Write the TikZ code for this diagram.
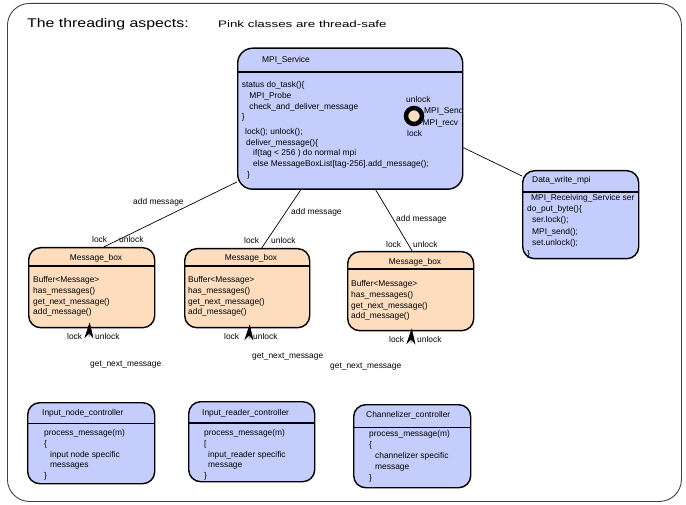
\documentclass[tikz,border=0pt]{standalone}
\usepackage{fontspec}
\setmainfont{Liberation Sans}
\usepackage{graphicx}
\usetikzlibrary{positioning}
\usetikzlibrary{arrows.meta}

\definecolor{boxblue}{RGB}{197,205,252}
\definecolor{boxpeach}{RGB}{254,221,191}

\newcommand{\smallfont}{\fontsize{8.4}{10.8}\selectfont}

\begin{document}
\begin{tikzpicture}[x=1pt, y=-1pt,
        classbox/.style={rectangle, rounded corners=12pt, draw=black, line width=1.4pt, inner sep=0pt, anchor=north west},
        svcbox/.style={classbox, fill=boxblue},
        safebox/.style={classbox, fill=boxpeach},
        divider/.style={line width=1.4pt},
        body/.style={inner sep=0pt, anchor=north west, align=left, font=\smallfont},
        lbl/.style={inner sep=0pt, anchor=west, font=\smallfont},
        link/.style={-, line width=0.7pt},
        getarrow/.style={-{Stealth[length=16pt, width=9pt, inset=5pt]}, line width=0.5pt}
    ]
        \useasboundingbox (0,0) rectangle (686,505);
        \node[rectangle, rounded corners=22pt, draw=black!75, line width=0.9pt, minimum width=674pt, minimum height=498pt, anchor=north west] (frame) at (7,3) {};
        \node[inner sep=0pt, anchor=base west, font=\fontsize{12.6}{14}\selectfont] (title) at (27,27.3) {\scalebox{1.26}[1]{The threading aspects:}};
        \node[inner sep=0pt, anchor=base west, font=\fontsize{9.4}{12}\selectfont] (note) at (218,27.7) {\scalebox{1.42}[1]{Pink classes are thread-safe}};

        % MPI service
        \node[svcbox, minimum width=225pt, minimum height=141pt, rounded corners=15pt] (service) at (237,47.5) {};
        \draw[divider] (service.west |- 0,72) -- (service.east |- 0,72);
        \node[lbl] (service-name) at (262,60) {MPI\_Service};
        \node[body] (service-task) at (241.7,81.3) {status do\_task()\{\\\hspace*{7.5pt}MPI\_Probe\\\hspace*{7.5pt}check\_and\_deliver\_message\\\}};
        \node[body] (service-deliver) at (245,128) {lock(); unlock();\\\hspace*{1pt}deliver\_message()\{\\\hspace*{8pt}if(tag < 256 ) do normal mpi\\\hspace*{8pt}else MessageBoxList[tag-256].add\_message();\\\hspace*{2pt}\}};
        \node[lbl] (port-unlock) at (406,99) {unlock};
        \node[lbl] (port-send) at (424,111) {MPI\_Send};
        \node[lbl] (port-recv) at (422.5,123) {MPI\_recv};
        \node[lbl] (port-lock) at (407,133) {lock};
        \node[circle, draw=black, line width=4.5pt, fill=boxpeach, minimum size=16pt, inner sep=0pt] (port) at (414,116) {};

        % data writer
        \node[svcbox, minimum width=116pt, minimum height=88pt] (datawrite) at (522,170) {};
        \draw[divider] (datawrite.west |- 0,192) -- (datawrite.east |- 0,192);
        \node[lbl] (datawrite-name) at (532,180) {Data\_write\_mpi};
        \node[body, font=\fontsize{8.4}{11.2}\selectfont] (datawrite-body) at (527,194.3) {\hspace*{4pt}MPI\_Receiving\_Service ser\\do\_put\_byte()\{\\\hspace*{5pt}ser.lock();\\\hspace*{5pt}MPI\_send();\\\hspace*{5pt}set.unlock();\\\}};

        % message boxes
        \node[safebox, minimum width=126pt, minimum height=80pt] (mb1) at (28,247) {};
        \draw[divider] (mb1.west |- 0,266) -- (mb1.east |- 0,266);
        \node[lbl, anchor=center] (mb1-name) at (96,258) {Message\_box};
        \node[body] (mb1-body) at (33,276.3) {Buffer<Message>\\has\_messages()\\get\_next\_message()\\add\_message()};

        \node[safebox, minimum width=125pt, minimum height=79pt] (mb2) at (184,248) {};
        \draw[divider] (mb2.west |- 0,266) -- (mb2.east |- 0,266);
        \node[lbl, anchor=center] (mb2-name) at (251,258) {Message\_box};
        \node[body] (mb2-body) at (188,276.3) {Buffer<Message>\\has\_messages()\\get\_next\_message()\\add\_message()};

        \node[safebox, minimum width=126pt, minimum height=79pt] (mb3) at (347,251) {};
        \draw[divider] (mb3.west |- 0,269) -- (mb3.east |- 0,269);
        \node[lbl, anchor=center] (mb3-name) at (415,262) {Message\_box};
        \node[body] (mb3-body) at (351,280.3) {Buffer<Message>\\has\_messages()\\get\_next\_message()\\add\_message()};

        % controllers
        \node[svcbox, minimum width=127pt, minimum height=81pt] (inctl) at (27,402) {};
        \draw[divider] (inctl.west |- 0,423.3) -- (inctl.east |- 0,423.3);
        \node[lbl] (inctl-name) at (42,413) {Input\_node\_controller};
        \node[body] (inctl-body) at (44,429.3) {process\_message(m)\\\{\\\hspace*{6pt}input node specific\\\hspace*{6pt}messages\\\}};

        \node[svcbox, minimum width=126pt, minimum height=80pt] (irctl) at (188,401) {};
        \draw[divider] (irctl.west |- 0,423) -- (irctl.east |- 0,423);
        \node[lbl] (irctl-name) at (202,413) {Input\_reader\_controller};
        \node[body] (irctl-body) at (204,429.3) {process\_message(m)\\{}[\\\hspace*{4pt}input\_reader specific\\\hspace*{4pt}message\\\}};

        \node[svcbox, minimum width=117pt, minimum height=83pt] (chctl) at (353,404) {};
        \draw[divider] (chctl.west |- 0,427.3) -- (chctl.east |- 0,427.3);
        \node[lbl] (chctl-name) at (366,415.5) {Channelizer\_controller};
        \node[body] (chctl-body) at (369,430.6) {process\_message(m)\\\{\\\hspace*{6pt}channelizer specific\\\hspace*{6pt}message\\\}};

        % links from the service
        \draw[link] ([yshift=8pt]service.south west) -- ([xshift=12pt]mb1.north);
        \draw[link] ([xshift=-49.5pt]service.south) -- ([xshift=14.5pt]mb2.north);
        \draw[link] ([xshift=25.5pt]service.south) -- ([xshift=1.5pt]mb3.north);
        \draw[link] ([yshift=-29pt]service.east) -- ([yshift=-6pt]datawrite.north west);
        \node[lbl] (add1) at (133,202.5) {add message};
        \node[lbl] (add2) at (291,212) {add message};
        \node[lbl] (add3) at (396,219) {add message};
        \node[lbl] (mb1-lock) at (92,239) {lock};
        \node[lbl] (mb1-unlock) at (119,239) {unlock};
        \node[lbl] (mb2-lock) at (244,240) {lock};
        \node[lbl] (mb2-unlock) at (271,240) {unlock};
        \node[lbl] (mb3-lock) at (386,244) {lock};
        \node[lbl] (mb3-unlock) at (413,244) {unlock};

        % get_next_message ends
        \coordinate (gnm1) at (89,337);
        \coordinate (gnm2) at (249,339);
        \coordinate (gnm3) at (411,343);
        \draw[getarrow] (gnm1) -- ([xshift=-2pt, yshift=6pt]mb1.south);
        \draw[getarrow] (gnm2) -- ([xshift=2.5pt, yshift=4pt]mb2.south);
        \draw[getarrow] (gnm3) -- ([xshift=1pt, yshift=3pt]mb3.south);
        \node[lbl] (mb1-block) at (67,336) {lock};
        \node[lbl] (mb1-bunlock) at (95,336) {unlock};
        \node[lbl] (mb2-block) at (224,336) {lock};
        \node[lbl] (mb2-bunlock) at (253,336) {unlock};
        \node[lbl] (mb3-block) at (389,339) {lock};
        \node[lbl] (mb3-bunlock) at (417,339) {unlock};
        \node[lbl] (gnm1-name) at (90,365) {get\_next\_message};
        \node[lbl] (gnm2-name) at (252,357) {get\_next\_message};
        \node[lbl] (gnm3-name) at (330,367) {get\_next\_message};
    \end{tikzpicture}
\end{document}
